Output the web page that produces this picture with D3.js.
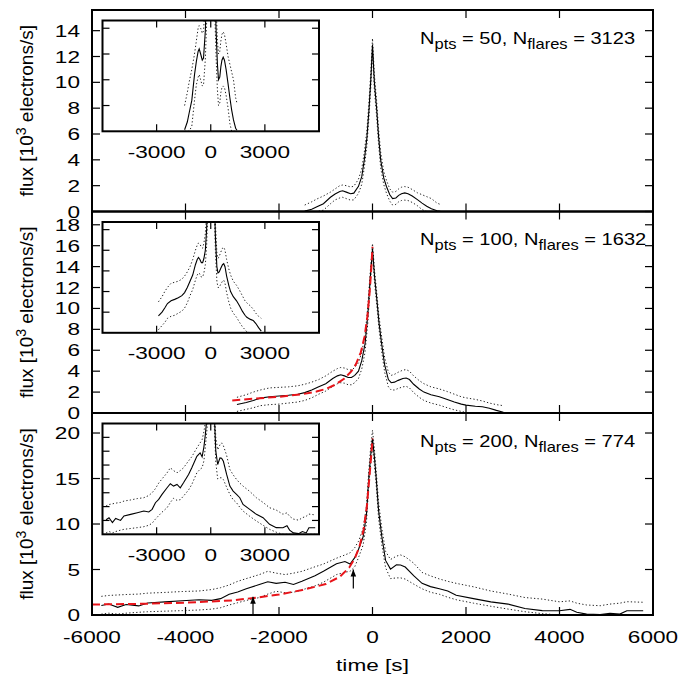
<!DOCTYPE html>
<html><head><meta charset="utf-8">
<script src="https://cdn.jsdelivr.net/npm/d3@7"></script>
<style>body{margin:0;background:#fff}</style>
</head><body><svg id="c" width="678" height="675"></svg>
<script>
// ---------- DATA ----------
// Panel 1: N_pts = 50, N_flares = 3123
const t1 = [-1450,-1300,-1200,-1050,-900,-800,-700,-640,-560,-470,-400,-300,-230,-175,-120,-75,-35,0,40,90,130,175,240,300,370,430,500,560,620,690,760,850,960,1060,1160,1260,1380,1450];
const solid1 = [0.03,0.18,0.35,0.6,1.1,1.35,1.55,1.6,1.5,1.38,1.42,1.95,2.7,4.0,5.7,7.9,10.3,12.9,10.0,7.9,5.8,4.0,2.6,1.92,1.3,1.0,1.05,1.25,1.38,1.44,1.38,1.2,0.92,0.65,0.41,0.22,0.06,0.02];
const upper1 = [0.5,0.75,0.95,1.2,1.5,1.75,2.0,2.05,2.0,1.9,1.95,2.5,3.3,4.6,6.3,8.5,10.9,13.4,10.6,8.5,6.4,4.6,3.1,2.4,1.75,1.5,1.55,1.75,1.88,1.93,1.88,1.7,1.45,1.3,1.15,1.0,0.65,0.55];
const lower1 = [0,0,0,0.1,0.6,0.9,1.05,1.1,1.0,0.88,0.9,1.4,2.1,3.4,5.1,7.3,9.7,12.4,9.4,7.3,5.2,3.4,2.1,1.4,0.8,0.5,0.55,0.75,0.85,0.88,0.85,0.7,0.45,0.15,0,0,0,0];

// Panel 2: N_pts = 100, N_flares = 1632
const t2 = [-2900,-2700,-2550,-2400,-2200,-2000,-1800,-1600,-1450,-1300,-1150,-1000,-850,-750,-680,-600,-520,-450,-380,-300,-230,-160,-100,-50,0,45,90,140,196,260,340,400,470,550,650,720,790,880,1000,1100,1250,1430,1600,1750,1900,2000,2200,2350,2500,2650,2800];
const solid2 = [0.82,1.0,1.2,1.42,1.55,1.62,1.7,1.8,1.95,2.2,2.5,2.8,3.3,3.55,3.65,3.55,3.4,3.4,3.6,4.0,5.0,6.6,9.4,12.8,15.7,13.0,11.0,8.6,6.6,4.6,3.2,2.9,2.95,3.12,3.3,3.35,3.2,2.75,2.3,2.0,1.75,1.55,1.3,1.05,0.85,0.75,0.65,0.6,0.45,0.25,0.08];
const upper2 = [1.5,1.75,2.0,2.2,2.4,2.45,2.5,2.6,2.75,2.95,3.2,3.55,4.0,4.25,4.35,4.3,4.15,4.1,4.35,4.8,5.8,7.4,10.2,13.4,16.2,13.6,11.6,9.2,7.3,5.3,3.9,3.6,3.7,3.9,4.1,4.15,4.0,3.55,3.1,2.8,2.5,2.3,2.05,1.8,1.55,1.45,1.3,1.15,0.95,0.8,0.7];
const lower2 = [0.15,0.35,0.5,0.7,0.8,0.85,0.95,1.05,1.2,1.45,1.8,2.1,2.55,2.8,2.9,2.85,2.7,2.7,2.9,3.3,4.2,5.8,8.6,12.2,15.2,12.4,10.4,8.0,5.9,3.9,2.5,2.2,2.2,2.35,2.5,2.55,2.4,1.95,1.5,1.2,0.95,0.75,0.5,0.3,0.15,0.05,0,0,0,0,0];
const modelT2 = [-3000,-2500,-2000,-1500,-1200,-1000,-800,-600,-450,-350,-250,-170,-110,-60,-25,0];
const model2 = [1.2,1.38,1.55,1.8,2.05,2.3,2.7,3.3,4.0,4.7,5.8,7.3,9.2,11.6,13.9,15.9];

// Panel 3: N_pts = 200, N_flares = 774
const t3 = [-5800,-5640,-5450,-5270,-5000,-4810,-4440,-4070,-3710,-3435,-3250,-3066,-2884,-2700,-2420,-2240,-2060,-1870,-1690,-1510,-1230,-1050,-770,-590,-480,-380,-300,-200,-130,-80,-40,0,40,80,130,200,280,385,512,600,700,880,1060,1240,1430,1610,1790,2160,2530,2900,3260,3630,4000,4225,4370,4580,4870,5080,5290,5440,5790];
const solid3 = [1.05,1.2,0.84,1.15,1.0,1.32,1.44,1.56,1.68,1.61,1.8,2.28,2.52,2.88,3.36,3.65,3.48,3.6,3.36,3.72,4.32,4.8,5.63,5.88,5.6,6.3,7.2,8.6,11.0,15.0,17.5,19.4,17.4,15.0,11.5,8.6,6.0,5.04,5.52,5.5,5.27,4.32,3.48,3.12,2.88,2.64,2.16,1.8,1.44,1.2,0.72,0.48,0.47,0.62,0.3,0.1,0.05,0.2,0.1,0.47,0.47];
const upper3 = [2.05,2.15,2.2,2.25,2.3,2.4,2.48,2.58,2.64,2.8,3.0,3.3,3.7,4.0,4.44,4.8,4.6,4.44,4.6,4.8,5.3,5.6,6.24,6.6,6.83,7.4,8.1,9.5,11.9,15.8,18.4,20.3,18.3,15.8,12.4,9.5,7.0,6.1,6.47,6.6,6.4,5.7,4.68,4.3,3.96,3.7,3.48,3.1,2.64,2.3,1.92,1.75,1.45,1.55,1.3,1.1,1.02,1.2,1.3,1.46,1.4];
const lower3 = [0.1,0.2,0.1,0.2,0.3,0.36,0.42,0.48,0.55,0.65,0.8,1.1,1.35,1.6,1.92,2.3,2.6,2.45,2.5,2.76,3.2,3.6,4.44,4.7,4.8,5.3,6.3,7.7,10.1,14.2,16.6,18.5,16.5,14.2,10.6,7.7,5.2,4.0,4.08,4.08,3.95,3.4,2.88,2.5,2.28,1.95,1.68,1.3,0.96,0.65,0.36,0.15,0,0,0,0,0,0,0,0,0];
const modelT3 = [-6000,-5000,-4000,-3000,-2500,-2000,-1500,-1000,-700,-500,-380,-280,-190,-120,-60,-20,0];
const model3 = [1.15,1.22,1.35,1.6,1.9,2.25,2.75,3.4,4.2,5.2,6.2,7.5,9.4,12.0,15.5,18.0,19.4];
const arrowT = [-2556,-410];
const arrowFrom = [0,2.9];
const arrowTo = [2.0,5.0];

// Axes / labels
const xTicks = [-6000,-4000,-2000,0,2000,4000,6000];
const insetXTicks = [-3000,0,3000];
const yTicks1 = [0,2,4,6,8,10,12,14];
const yTicks2 = [0,2,4,6,8,10,12,14,16,18];
const yTicks3 = [0,5,10,15,20];
const nPts = ["50","100","200"];
const nFlares = ["3123","1632","774"];
const xLabel = "time [s]";

// ---------- DRAW ----------
const svg = d3.select("#c");
const FONT = "'Liberation Sans', Arial, Helvetica, sans-serif";
const SX = 1.33, FS = 17;
const L = 92, R = 653;
const x = d3.scaleLinear().domain([-6000,6000]).range([L,R]);

function htext(g, px, py, str, anchor, size, sx) {
  const gg = g.append("g").attr("transform", `translate(${px},${py}) scale(${sx || SX},1)`);
  return gg.append("text").attr("text-anchor", anchor).attr("font-size", size || FS)
    .attr("font-family", FONT).attr("fill", "#000").text(str);
}
const defs = svg.append("defs");
defs.append("marker").attr("id","ah").attr("viewBox","0 0 10 10").attr("refX",10).attr("refY",5)
  .attr("markerWidth",7).attr("markerHeight",7).attr("markerUnits","userSpaceOnUse").attr("orient","auto")
  .append("path").attr("d","M0,1 L10,5 L0,9 Z").attr("fill","#000");

const panels = [
  {top:10, bot:211.5, ymax:15.6, t:t1, s:solid1, u:upper1, l:lower1, mt:null, m:null, yt:yTicks1, iy:2.15, iyt:[0.5,1,1.5,2]},
  {top:211.5, bot:413, ymax:19.27, t:t2, s:solid2, u:upper2, l:lower2, mt:modelT2, m:model2, yt:yTicks2, iy:5.37, iyt:[1,2,3,4,5]},
  {top:413, bot:615, ymax:22.2, t:t3, s:solid3, u:upper3, l:lower3, mt:modelT3, m:model3, yt:yTicks3, iy:8, iyt:[1,2,3,4,5,6,7]}
];

panels.forEach((p, i) => {
  const g = svg.append("g");
  const y = d3.scaleLinear().domain([0,p.ymax]).range([p.bot,p.top]);
  const cid = "clip"+i;
  defs.append("clipPath").attr("id",cid).append("rect")
    .attr("x",L).attr("y",p.top).attr("width",R-L).attr("height",p.bot-p.top);
  const dg = g.append("g").attr("clip-path",`url(#${cid})`);
  const mk = (xs, ys, sx, sy) => d3.line().x((d,k)=>sx(xs[k])).y((d,k)=>sy(ys[k]))(ys);
  const drawSet = (gg, sx, sy, lw) => {
    gg.append("path").attr("d", mk(p.t,p.l,sx,sy)).attr("fill","none").attr("stroke","#222")
      .attr("stroke-width",1).attr("stroke-dasharray","1.3,2.2");
    gg.append("path").attr("d", mk(p.t,p.u,sx,sy)).attr("fill","none").attr("stroke","#222")
      .attr("stroke-width",1).attr("stroke-dasharray","1.3,2.2");
    gg.append("path").attr("d", mk(p.t,p.s,sx,sy)).attr("fill","none").attr("stroke","#000")
      .attr("stroke-width",lw);
  };
  drawSet(dg, x, y, 1.1);
  if (p.m) {
    dg.append("path").attr("d", mk(p.mt,p.m,x,y)).attr("fill","none").attr("stroke","#e8141a")
      .attr("stroke-width",2).attr("stroke-dasharray","8,4");
  }
  if (i === 2) {
    arrowT.forEach((a,k) => {
      g.append("line").attr("x1",x(a)).attr("x2",x(a)).attr("y1",y(arrowFrom[k])).attr("y2",y(arrowTo[k]))
        .attr("stroke","#000").attr("stroke-width",1.2).attr("marker-end","url(#ah)");
    });
  }
  // main ticks
  const TL = 8;
  xTicks.forEach(v => {
    g.append("line").attr("x1",x(v)).attr("x2",x(v)).attr("y1",p.bot).attr("y2",p.bot-TL).attr("stroke","#000").attr("stroke-width",1.2);
    g.append("line").attr("x1",x(v)).attr("x2",x(v)).attr("y1",p.top).attr("y2",p.top+TL).attr("stroke","#000").attr("stroke-width",1.2);
  });
  p.yt.forEach(v => {
    g.append("line").attr("x1",L).attr("x2",L+TL).attr("y1",y(v)).attr("y2",y(v)).attr("stroke","#000").attr("stroke-width",1.2);
    g.append("line").attr("x1",R).attr("x2",R-TL).attr("y1",y(v)).attr("y2",y(v)).attr("stroke","#000").attr("stroke-width",1.2);
    htext(g, 80, y(v)+6, String(v), "end");
  });
  g.append("rect").attr("x",L).attr("y",p.top).attr("width",R-L).attr("height",p.bot-p.top)
    .attr("fill","none").attr("stroke","#000").attr("stroke-width",2);

  // inset
  const iT = p.top + 10.5, iB = iT + 110.8, iL = 102.5, iR = 319;
  const xi = d3.scaleLinear().domain([-6000,6000]).range([iL,iR]);
  const yi = d3.scaleLinear().domain([0,p.iy]).range([iB,iT]);
  g.append("rect").attr("x",iL).attr("y",iT).attr("width",iR-iL).attr("height",iB-iT).attr("fill","#fff");
  const icid = "iclip"+i;
  defs.append("clipPath").attr("id",icid).append("rect").attr("x",iL).attr("y",iT).attr("width",iR-iL).attr("height",iB-iT);
  const ig = g.append("g").attr("clip-path",`url(#${icid})`);
  drawSet(ig, xi, yi, 1.1);
  const ITL = 7;
  insetXTicks.forEach(v => {
    g.append("line").attr("x1",xi(v)).attr("x2",xi(v)).attr("y1",iB).attr("y2",iB-ITL).attr("stroke","#000").attr("stroke-width",1.2);
    g.append("line").attr("x1",xi(v)).attr("x2",xi(v)).attr("y1",iT).attr("y2",iT+ITL).attr("stroke","#000").attr("stroke-width",1.2);
    htext(g, xi(v), iB+26.5, String(v), "middle");
  });
  p.iyt.forEach(v => {
    g.append("line").attr("x1",iL).attr("x2",iL+ITL).attr("y1",yi(v)).attr("y2",yi(v)).attr("stroke","#000").attr("stroke-width",1.2);
    g.append("line").attr("x1",iR).attr("x2",iR-ITL).attr("y1",yi(v)).attr("y2",yi(v)).attr("stroke","#000").attr("stroke-width",1.2);
  });
  g.append("rect").attr("x",iL).attr("y",iT).attr("width",iR-iL).attr("height",iB-iT)
    .attr("fill","none").attr("stroke","#000").attr("stroke-width",2);

  // annotation
  const an = htext(g, 420, p.top+33.5, "", "start", 17, 1.18);
  an.append("tspan").text("N");
  an.append("tspan").attr("dy",5).attr("font-size",14).text("pts");
  an.append("tspan").attr("dy",-5).text(" = " + nPts[i] + ", N");
  an.append("tspan").attr("dy",5).attr("font-size",14).text("flares");
  an.append("tspan").attr("dy",-5).text(" = " + nFlares[i]);

  // y label
  const yl = svg.append("g").attr("transform",`translate(33,${(p.top+p.bot)/2}) rotate(-90)`)
    .append("text").attr("text-anchor","middle").attr("font-size",19).attr("font-family",FONT);
  yl.append("tspan").text("flux [10");
  yl.append("tspan").attr("dy",-7.5).attr("font-size",14).text("3");
  yl.append("tspan").attr("dy",7.5).text(" electrons/s]");

  if (i === 2) {
    xTicks.forEach(v => htext(g, x(v), p.bot+27.5, String(v), "middle"));
    htext(g, (L+R)/2, 670.5, xLabel, "middle");
  }
});
</script></body></html>
